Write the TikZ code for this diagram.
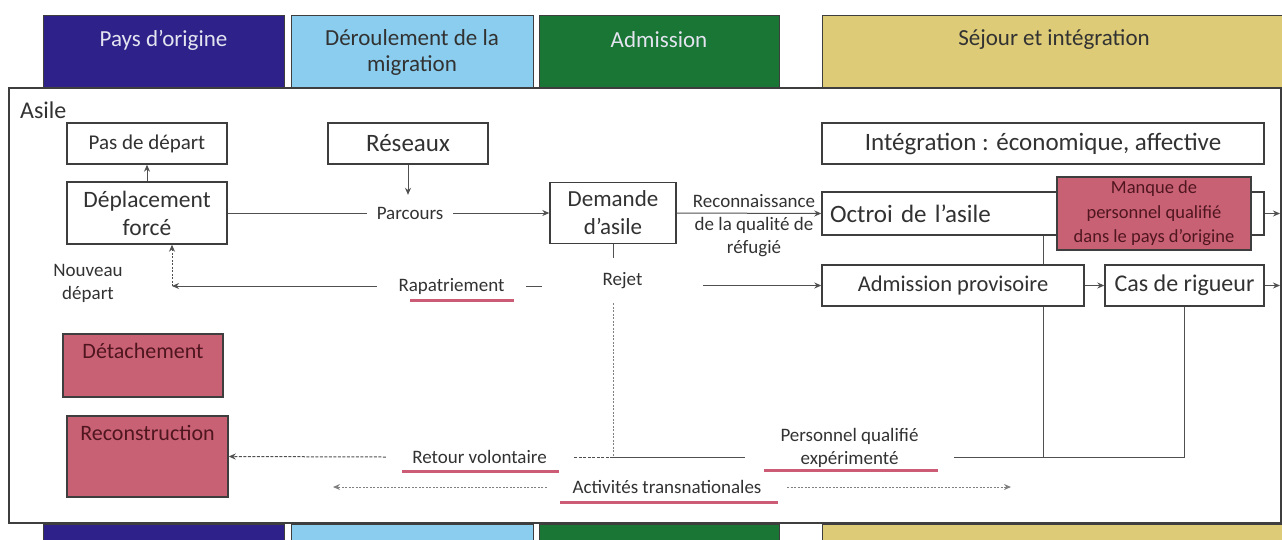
\documentclass[tikz,border=0pt]{standalone}
\usepackage{fontspec}
\setmainfont{Carlito}
\usepackage{tikz}
\usetikzlibrary{arrows.meta}

\definecolor{bleupays}{RGB}{46,34,138}
\definecolor{bleumig}{RGB}{138,205,238}
\definecolor{vertadm}{RGB}{25,118,52}
\definecolor{jaunesej}{RGB}{221,203,120}
\definecolor{roseboite}{RGB}{201,97,116}
\definecolor{roselig}{RGB}{204,92,118}
\definecolor{bordeaux}{RGB}{80,22,32}
\definecolor{bord}{RGB}{62,62,62}
\definecolor{trait}{RGB}{80,80,80}
\definecolor{texte}{RGB}{50,50,50}
\definecolor{clair}{RGB}{228,228,240}

\begin{document}
\begin{tikzpicture}[x=1pt,y=-1pt,>={Stealth[length=7pt,width=6pt]},
	boite/.style={draw=bord,line width=1.4pt,fill=white,inner sep=0pt,align=center,text=texte},
	rose/.style={boite,fill=roseboite,text=bordeaux},
	lien/.style={draw=trait,line width=1pt},
	pointille/.style={dash pattern=on 2pt off 1.5pt},
	tirets/.style={dash pattern=on 3pt off 1.5pt},
	etiq/.style={inner sep=0pt,align=center,text=texte,font=\fontsize{19}{23}\selectfont},
	souligne/.style={draw=roselig,line width=3pt},
	bande/.style={draw=bord,line width=1pt},
	titre/.style={align=center,font=\fontsize{23}{26}\selectfont}]
	\useasboundingbox (0,0) rectangle (1282,539);
	% bandes du haut et du bas
	\draw[bande,fill=bleupays] (43,15) rectangle (284,88);
	\draw[bande,fill=bleumig] (291,15) rectangle (533,88);
	\draw[bande,fill=vertadm] (539,15) rectangle (779,88);
	\draw[bande,fill=jaunesej] (822,15) rectangle (1283,88);
	\draw[bande,fill=bleupays] (43,524) rectangle (284,540);
	\draw[bande,fill=bleumig] (291,524) rectangle (533,540);
	\draw[bande,fill=vertadm] (539,524) rectangle (779,540);
	\draw[bande,fill=jaunesej] (822,524) rectangle (1283,540);
	\node[titre,text=clair] (tPays) at (163.5,40) {Pays d'origine};
	\node[titre,text=texte] (tMig) at (412,52) {Déroulement de la\\migration};
	\node[titre,text=clair] (tAdm) at (659,40) {Admission};
	\node[titre,text=texte] (tSej) at (1054,40) {Séjour et intégration};
	% cadre Asile
	\node[draw=bord,line width=1.4pt,minimum width=1272pt,minimum height=435pt,inner sep=0pt] (asile) at (645,305.5) {};
	\node[anchor=west,inner sep=0pt,text=texte,font=\fontsize{24}{28}\selectfont] (tAsile) at (20,110) {Asile};

	\coordinate (jRet) at (613,457); % jonction rejet
	\coordinate (jNouv) at (172,286);
	\coordinate (sortO) at (1280,213.5);
	\coordinate (sortC) at (1280,285.5);
	\coordinate (actG) at (333,487);
	\coordinate (actD) at (1011,487);

	\node[boite,font=\fontsize{21}{25}\selectfont,minimum width=160pt,minimum height=41pt] (pasdep) at (147,143.5) {Pas de départ};
	\node[boite,font=\fontsize{25}{30}\selectfont,minimum width=160pt,minimum height=41pt] (reseaux) at (408,143.5) {Réseaux};
	\node[boite,font=\fontsize{25}{30}\selectfont,minimum width=442pt,minimum height=41pt] (integ) at (1043,143.5) {Intégration : économique, affective};
	\node[boite,font=\fontsize{23.5}{28}\selectfont,minimum width=160pt,minimum height=62pt] (depl) at (147,213) {Déplacement\\forcé};
	\node[boite,font=\fontsize{23}{28}\selectfont,minimum width=126pt,minimum height=61pt] (dem) at (613,213) {Demande\\d'asile};
	\node[boite,font=\fontsize{25}{30}\selectfont,minimum height=43pt,text width=426pt,inner xsep=8pt,align=left] (octroi) at (1043,213.5) {Octroi de l'asile};
	\node[rose,font=\fontsize{18.5}{24.5}\selectfont,minimum width=194pt,minimum height=73pt] (manque) at (1154,213.5) {Manque de\\personnel qualifié\\dans le pays d'origine};
	\draw[lien] (octroi.south) -- (octroi.south |- jRet);
	\node[boite,font=\fontsize{22.5}{27}\selectfont,minimum width=262pt,minimum height=41pt] (admprov) at (953,285.5) {Admission provisoire};
	\node[boite,font=\fontsize{24}{29}\selectfont,minimum width=159pt,minimum height=41pt] (cas) at (1184.5,285.5) {Cas de rigueur};
	\node[rose,minimum width=160pt,minimum height=63pt,label={[anchor=north,inner sep=10pt,text=bordeaux,font=\fontsize{22}{26}\selectfont]north:Détachement}] (detach) at (143,365.5) {};
	\node[rose,minimum width=161pt,minimum height=81pt,label={[anchor=north,inner sep=10pt,text=bordeaux,font=\fontsize{22}{26}\selectfont]north:Reconstruction}] (recon) at (147.5,456.5) {};

	% etiquettes
	\node[etiq,minimum width=86pt,minimum height=36pt] (parcours) at (410,213) {Parcours};
	\node[etiq] (reconn) at (754,226) {Reconnaissance\\de la qualité de\\réfugié};
	\node[etiq,minimum width=161pt,minimum height=45pt] (rejet) at (622.5,280.5) {Rejet};
	\node[etiq,minimum width=149pt] (rapat) at (451.5,286) {Rapatriement};
	\node[etiq] (nouveau) at (88,283) {Nouveau\\départ};
	\node[etiq,minimum width=187pt] (retour) at (479.5,457) {Retour volontaire};
	\node[etiq,minimum width=209pt] (perso) at (849.5,447.5) {Personnel qualifié\\expérimenté};
	\node[etiq,minimum width=240pt] (activ) at (667,487) {Activités transnationales};

	% liens
	\draw[lien,->] (depl.north) -- (pasdep.south);
	\draw[lien,->] (reseaux.south) -- (reseaux.south |- parcours.north);
	\draw[lien] (depl.east) -- (parcours.west);
	\draw[lien,->] (parcours.east) -- (dem.west);
	\draw[lien,->] (dem.east) -- (octroi.west);
	\draw[lien,->] (octroi.east) -- (sortO);
	\draw[lien,->] (admprov.east) -- (cas.west);
	\draw[lien,->] (cas.east) -- (sortC);
	\draw[lien] (dem.south) -- (dem.south |- rejet.north);
	\draw[lien,pointille,draw=gray] (dem.south |- rejet.south) -- (jRet);
	\draw[lien,->] (rejet.east |- admprov.west) -- (admprov.west);
	\draw[lien] (rejet.west |- rapat.east) -- (rapat.east);
	\draw[lien,->] (rapat.west) -- (jNouv);
	\draw[lien,pointille,->] (jNouv) -- (jNouv |- depl.south); % nouveau depart
	\draw[lien] (cas.south) |- (perso.east |- jRet);
	\draw[lien] (jRet) -- (perso.west |- jRet);
	\draw[lien,tirets] (jRet) -- (retour.east);
	\draw[lien,tirets,->] (retour.west) -- (recon.east);
	\draw[lien,pointille,draw=gray,->] (activ.west) -- (actG);
	\draw[lien,pointille,draw=gray,->] (activ.east) -- (actD);

	% soulignements
	\draw[souligne] (410,300) -- (514,300);
	\draw[souligne] (402,471) -- (559,471);
	\draw[souligne] (764,470) -- (938,470);
	\draw[souligne] (560,502) -- (778,502);
\end{tikzpicture}
\end{document}
